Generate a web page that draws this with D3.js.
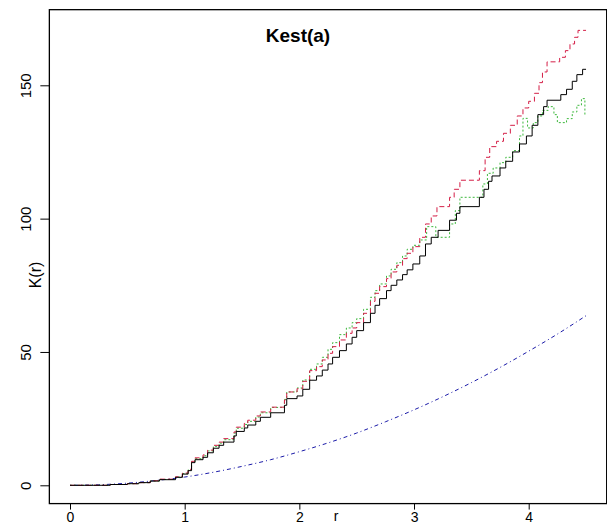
<!DOCTYPE html>
<html>
<head>
<meta charset="utf-8">
<script src="https://cdn.jsdelivr.net/npm/d3@7"></script>
<style>
  body { margin: 0; background: #fff; }
  text { font-family: "Liberation Sans", Arial, sans-serif; fill: #000; }
</style>
</head>
<body>
<script>
/* ---- data ---- */
var xTicks = [0, 1, 2, 3, 4];
var yTicks = [0, 50, 100, 150];

// iso (black, solid)
var isoR = [0, 0.35, 0.5, 0.6, 0.7, 0.78, 0.92, 0.98, 1.03, 1.06, 1.09, 1.16, 1.2, 1.25, 1.3, 1.34, 1.43, 1.45, 1.52, 1.55,
            1.62, 1.66, 1.75, 1.87, 1.89, 1.98, 2.03, 2.09, 2.15, 2.2, 2.25, 2.29, 2.35, 2.41, 2.46, 2.5, 2.56, 2.62, 2.66, 2.7,
            2.76, 2.8, 2.85, 2.9, 2.94, 2.99, 3.05, 3.1, 3.15, 3.21, 3.31, 3.37, 3.4, 3.57, 3.61, 3.65, 3.68, 3.75, 3.8, 3.86,
            3.92, 3.98, 4.03, 4.08, 4.13, 4.16, 4.28, 4.33, 4.38, 4.42, 4.47, 4.5];
var isoK = [0, 0.3, 0.6, 1.0, 1.6, 2.1, 3.0, 4.2, 5.5, 8.5, 9.6, 10.5, 12.2, 13.9, 15, 16.2, 18.5, 20.2, 21.5, 22.6,
            24, 25.5, 27.2, 30, 32.5, 33.5, 36, 39.4, 41, 43.2, 45.5, 48, 50.5, 53, 55.5, 58, 61, 64.5, 67.5, 70,
            73, 75, 77, 79, 80.8, 83, 86, 90.5, 93, 95.6, 99.4, 102, 104.5, 108, 111, 114, 116, 119, 121.5, 125,
            128, 131, 135, 139, 142, 144.4, 146.5, 148.5, 151.5, 154, 156, 156];

// trans (red, dashed)
var transR = [0, 0.35, 0.5, 0.6, 0.7, 0.78, 0.92, 0.98, 1.03, 1.06, 1.09, 1.16, 1.2, 1.25, 1.3, 1.34, 1.43, 1.45, 1.52, 1.55,
              1.62, 1.66, 1.75, 1.87, 1.89, 1.98, 2.03, 2.09, 2.15, 2.2, 2.25, 2.29, 2.35, 2.41, 2.46, 2.5, 2.56, 2.62, 2.66, 2.7,
              2.76, 2.8, 2.85, 2.9, 2.94, 2.99, 3.05, 3.1, 3.15, 3.2, 3.31, 3.35, 3.4, 3.57, 3.62, 3.66, 3.72, 3.78, 3.84, 3.9,
              3.95, 4.0, 4.05, 4.09, 4.12, 4.16, 4.27, 4.32, 4.36, 4.4, 4.43, 4.5];
var transK = [0, 0.3, 0.6, 1.0, 1.7, 2.3, 3.2, 4.6, 6, 9, 10.3, 11.4, 13.2, 15, 16.2, 17.5, 20, 21.8, 23.2, 24.4,
              26, 27.5, 29.3, 32, 35, 36.2, 39, 43, 44.5, 47, 49.5, 52, 54.5, 57, 59, 61, 64.5, 69, 72, 74.5,
              77.5, 80, 82.5, 85, 87, 89.5, 93, 98, 101, 104.5, 108, 111, 114.4, 118, 123, 127, 129, 132, 135, 138.5,
              141.5, 144, 147, 151, 155, 158.8, 160.5, 163, 165.5, 168, 170.6, 170.6];

// border (green, dotted)
var borderR = [0, 0.35, 0.5, 0.6, 0.7, 0.78, 0.92, 0.98, 1.03, 1.06, 1.09, 1.16, 1.2, 1.25, 1.3, 1.34, 1.43, 1.45, 1.52, 1.55,
               1.62, 1.66, 1.75, 1.87, 1.89, 1.98, 2.03, 2.09, 2.15, 2.2, 2.25, 2.29, 2.35, 2.41, 2.46, 2.5, 2.56, 2.62, 2.66, 2.7,
               2.76, 2.8, 2.85, 2.9, 2.94, 2.99, 3.05, 3.11, 3.19, 3.31, 3.36, 3.4, 3.6, 3.64, 3.69, 3.75, 3.8, 3.86, 3.92, 3.95,
               3.99, 4.04, 4.08, 4.12, 4.17, 4.22, 4.25, 4.33, 4.38, 4.42, 4.46, 4.49];
var borderK = [0, 0.3, 0.6, 1.0, 1.6, 2.2, 3.1, 4.4, 5.8, 8.8, 10, 11.1, 12.9, 14.6, 15.8, 17.1, 19.6, 21.4, 22.8, 24,
               25.6, 27.2, 29.2, 32.2, 35, 36.5, 39.5, 43.5, 45.5, 48, 51, 53.5, 56.5, 59, 61, 62.5, 66, 70.5, 73, 75.5,
               78.5, 81, 83.5, 86, 88.5, 90, 92, 97, 93, 98, 103, 108, 113, 117, 119, 121, 123, 125.5, 131, 137.6,
               134, 136, 138.5, 140.6, 142, 139, 136, 137.5, 140, 142.5, 145, 139];

// theo (blue, dot-dash)
var theoR = [0, 0.25, 0.5, 0.75, 1, 1.25, 1.5, 1.75, 2, 2.25, 2.5, 2.75, 3, 3.25, 3.5, 3.75, 4, 4.25, 4.5];
var theoK = [0, 0.2, 0.8, 1.8, 3.1, 4.9, 7.1, 9.6, 12.6, 15.9, 19.6, 23.8, 28.3, 33.2, 38.5, 44.2, 50.3, 56.7, 63.6];

/* ---- setup ---- */
var W = 607, H = 525;
var x = d3.scaleLinear().domain([0, 4]).range([70, 528.7]);
var y = d3.scaleLinear().domain([0, 150]).range([485.3, 85.3]);

var svg = d3.select("body").append("svg")
    .attr("width", W)
    .attr("height", H);

// plot box (R adds 4% padding on each side)
var x0 = x(-0.18), x1 = x(4.68), yb = y(-6.86), yt = y(178.36);
svg.append("rect")
    .attr("x", x0).attr("y", yt)
    .attr("width", x1 - x0).attr("height", yb - yt)
    .attr("fill", "none")
    .attr("stroke", "#000")
    .attr("stroke-width", 1.3);

// x axis
var xAxis = d3.axisBottom(x).tickValues(xTicks).tickSize(6).tickFormat(d3.format("d"));
var gx = svg.append("g").attr("transform", "translate(0," + yb + ")").call(xAxis);
gx.select(".domain").remove();
gx.selectAll("line").attr("stroke", "#000");
gx.selectAll("text").attr("font-size", 14).attr("dy", null).attr("y", 18);

// y axis
var yAxis = d3.axisLeft(y).tickValues(yTicks).tickSize(9).tickFormat(d3.format("d"));
var gy = svg.append("g").attr("transform", "translate(" + x0 + ",0)").call(yAxis);
gy.select(".domain").remove();
gy.selectAll("line").attr("stroke", "#000");
// rotate labels around the tick position
gy.selectAll(".tick text")
    .attr("font-size", 15)
    .attr("x", null).attr("dy", null).attr("y", 0)
    .attr("text-anchor", "middle")
    .attr("transform", "translate(" + (31 - x0) + ",0) rotate(-90)");

// labels
svg.append("text")
    .attr("x", 298).attr("y", 42)
    .attr("text-anchor", "middle")
    .attr("font-size", 19)
    .attr("font-weight", "bold")
    .text("Kest(a)");

svg.append("text")
    .attr("x", 336).attr("y", 521)
    .attr("text-anchor", "middle")
    .attr("font-size", 14)
    .text("r");

svg.append("text")
    .attr("transform", "translate(41,275) rotate(-90)")
    .attr("text-anchor", "middle")
    .attr("font-size", 16)
    .text("K(r)");

/* ---- curves ---- */
function pairs(rs, ks) {
  return rs.map(function(r, i) { return [r, ks[i]]; });
}
var stepLine = d3.line()
    .x(function(d) { return x(d[0]); })
    .y(function(d) { return y(d[1]); })
    .curve(d3.curveStepAfter);
var smoothLine = d3.line()
    .x(function(d) { return x(d[0]); })
    .y(function(d) { return y(d[1]); })
    .curve(d3.curveMonotoneX);

svg.append("path")
    .attr("d", smoothLine(pairs(theoR, theoK)))
    .attr("fill", "none")
    .attr("stroke", "#1a1aa8")
    .attr("stroke-width", 1)
    .attr("stroke-dasharray", "1,3,4,3");

svg.append("path")
    .attr("d", stepLine(pairs(borderR, borderK)))
    .attr("fill", "none")
    .attr("stroke", "#3cb83c")
    .attr("stroke-width", 1)
    .attr("stroke-dasharray", "2,2");

svg.append("path")
    .attr("d", stepLine(pairs(transR, transK)))
    .attr("fill", "none")
    .attr("stroke", "#d41e46")
    .attr("stroke-width", 1)
    .attr("stroke-dasharray", "5,3");

svg.append("path")
    .attr("d", stepLine(pairs(isoR, isoK)))
    .attr("fill", "none")
    .attr("stroke", "#000")
    .attr("stroke-width", 1);
</script>
</body>
</html>
